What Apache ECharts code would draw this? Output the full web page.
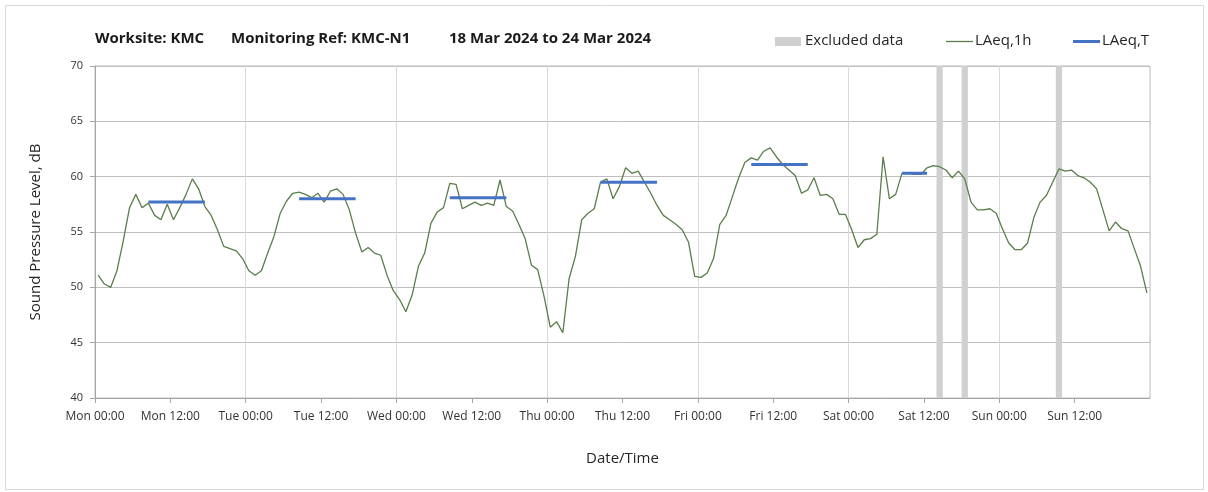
<!DOCTYPE html>
<html>
<head>
<meta charset="utf-8">
<script src="https://cdn.jsdelivr.net/npm/echarts@6/dist/echarts.min.js"></script>
<style>
  html, body { margin: 0; padding: 0; background: #fff; }
  #chart { width: 1208px; height: 492px; }
</style>
</head>
<body>
<div id="chart"></div>
<script>
/* hourly LAeq,1h readings, Mon 00:00 .. Sun 23:00 (one value per hour) */
var laeq1h = [
  51.1, 50.3, 50.0, 51.5, 54.2, 57.2, 58.4, 57.2, 57.6, 56.5, 56.1, 57.5,
  56.1, 57.2, 58.4, 59.8, 58.9, 57.3, 56.5, 55.2, 53.7, 53.5, 53.3, 52.6,
  51.5, 51.1, 51.5, 53.1, 54.6, 56.7, 57.8, 58.5, 58.6, 58.4, 58.1, 58.5,
  57.7, 58.7, 58.9, 58.4, 57.0, 54.9, 53.2, 53.6, 53.1, 52.9, 51.1, 49.7,
  48.9, 47.8, 49.3, 51.9, 53.1, 55.8, 56.8, 57.2, 59.4, 59.3, 57.1, 57.4,
  57.7, 57.4, 57.6, 57.4, 59.7, 57.3, 56.9, 55.7, 54.4, 52.0, 51.6, 49.2,
  46.4, 46.9, 45.9, 50.8, 52.8, 56.1, 56.7, 57.1, 59.5, 59.8, 58.0, 59.1,
  60.8, 60.3, 60.5, 59.5, 58.5, 57.4, 56.5, 56.1, 55.7, 55.2, 54.1, 51.0,
  50.9, 51.3, 52.6, 55.7, 56.5, 58.2, 59.9, 61.3, 61.7, 61.5, 62.3, 62.6,
  61.8, 61.1, 60.6, 60.1, 58.5, 58.8, 59.9, 58.3, 58.4, 58.0, 56.6, 56.6,
  55.2, 53.6, 54.3, 54.4, 54.8, 61.8, 58.0, 58.4, 60.3, 60.3, 60.2, 60.2,
  60.8, 61.0, 60.9, 60.6, 59.9, 60.5, 59.8, 57.7, 57.0, 57.0, 57.1, 56.7,
  55.3, 54.0, 53.4, 53.4, 54.0, 56.3, 57.7, 58.3, 59.5, 60.7, 60.5, 60.6,
  60.1, 59.9, 59.5, 58.9, 57.0, 55.1, 55.9, 55.3, 55.1, 53.5, 51.9, 49.5
];

/* LAeq,T daytime periods (first and last hour index) and levels */
var ltStart = [8, 32, 56, 80, 104, 128];
var ltEnd   = [17, 41, 65, 89, 113, 132];
var ltValue = [57.7, 58.0, 58.1, 59.5, 61.1, 60.3];

/* excluded hours (hour index from Mon 00:00) */
var excludedHours = [134, 138, 153];

var dayNames = ['Mon', 'Tue', 'Wed', 'Thu', 'Fri', 'Sat', 'Sun'];

var chart = echarts.init(document.getElementById('chart'));
var FONT = 'Open Sans';
var GREEN = '#5a7d4a', BLUE = '#4472c4', GREY = '#d0d0d0';

// points sit in the middle of their hour
var lineData = laeq1h.map(function (v, i) { return [i + 0.5, v]; });

var series = [];

series.push({
  name: 'Excluded data',
  type: 'line',
  data: [],
  color: GREY,
  markArea: {
    silent: true,
    itemStyle: { color: GREY },
    data: excludedHours.map(function (h) { return [{ xAxis: h }, { xAxis: h + 1 }]; })
  }
});

series.push({
  name: 'LAeq,1h',
  type: 'line',
  data: lineData,
  symbol: 'none',
  color: GREEN,
  lineStyle: { width: 1.3, color: GREEN },
  z: 3
});

for (var k = 0; k < ltStart.length; k++) {
  series.push({
    name: 'LAeq,T',
    type: 'line',
    data: [[ltStart[k] + 0.5, ltValue[k]], [ltEnd[k] + 0.5, ltValue[k]]],
    symbol: 'none',
    color: BLUE,
    lineStyle: { width: 3, color: BLUE },
    z: 4
  });
}

// legend drawn by hand so the line keys carry no marker
function legendText(x, txt) {
  return { type: 'text', x: x, y: 41,
    style: { text: txt, font: '15px ' + FONT, fill: '#262626', verticalAlign: 'middle' } };
}

var option = {
  animation: false,
  textStyle: { fontFamily: FONT },
  graphic: [
    { type: 'rect', shape: { x: 5.5, y: 5.5, width: 1198, height: 484 },
      style: { fill: 'none', stroke: '#d9d9d9', lineWidth: 1 }, silent: true },
    { type: 'text', left: 95, top: 31,
      style: { text: 'Worksite: KMC', font: 'bold 15px ' + FONT, fill: '#1a1a1a' } },
    { type: 'text', left: 231, top: 31,
      style: { text: 'Monitoring Ref: KMC-N1', font: 'bold 15px ' + FONT, fill: '#1a1a1a' } },
    { type: 'text', left: 449, top: 31,
      style: { text: '18 Mar 2024 to 24 Mar 2024', font: 'bold 15px ' + FONT, fill: '#1a1a1a' } },

    { type: 'rect', shape: { x: 775, y: 37, width: 26, height: 9 }, style: { fill: GREY } },
    legendText(805, 'Excluded data'),
    { type: 'line', shape: { x1: 946, y1: 41.5, x2: 973, y2: 41.5 },
      style: { stroke: GREEN, lineWidth: 1.3 } },
    legendText(975, 'LAeq,1h'),
    { type: 'line', shape: { x1: 1073, y1: 41.5, x2: 1100, y2: 41.5 },
      style: { stroke: BLUE, lineWidth: 3 } },
    legendText(1102, 'LAeq,T')
  ],
  legend: { show: false },
  grid: {
    left: 95, top: 66, right: 58, bottom: 94,
    show: true, borderColor: '#bfbfbf', borderWidth: 1
  },
  xAxis: [
    {
      type: 'value',
      min: 0, max: 168, interval: 12,
      name: 'Date/Time',
      nameLocation: 'middle',
      nameGap: 53,
      nameTextStyle: { fontSize: 15, color: '#262626' },
      axisLine: { show: true, lineStyle: { color: '#a6a6a6' } },
      axisTick: { show: true, length: 5, lineStyle: { color: '#a6a6a6' } },
      splitLine: { show: false },
      axisLabel: {
        margin: 13,
        fontSize: 12,
        color: '#333',
        showMaxLabel: false,
        formatter: function (h) {
          if (h >= 168) return '';
          return dayNames[Math.floor(h / 24)] + ' ' + (h % 24 === 0 ? '00:00' : '12:00');
        }
      }
    },
    {
      type: 'value',
      min: 0, max: 168, interval: 24,
      position: 'bottom',
      axisLine: { show: false },
      axisTick: { show: false },
      axisLabel: { show: false },
      splitLine: { show: true, lineStyle: { color: '#d9d9d9', width: 1 } }
    }
  ],
  yAxis: {
    type: 'value',
    min: 40, max: 70, interval: 5,
    name: 'Sound Pressure Level, dB',
    nameLocation: 'middle',
    nameGap: 52,
    nameTextStyle: { fontSize: 15, color: '#262626' },
    axisLine: { show: true, lineStyle: { color: '#a6a6a6' } },
    axisTick: { show: true, length: 5, lineStyle: { color: '#a6a6a6' } },
    splitLine: { show: true, lineStyle: { color: '#bfbfbf' } },
    axisLabel: { margin: 12, fontSize: 11, color: '#333' }
  },
  series: series
};

chart.setOption(option);
</script>
</body>
</html>
